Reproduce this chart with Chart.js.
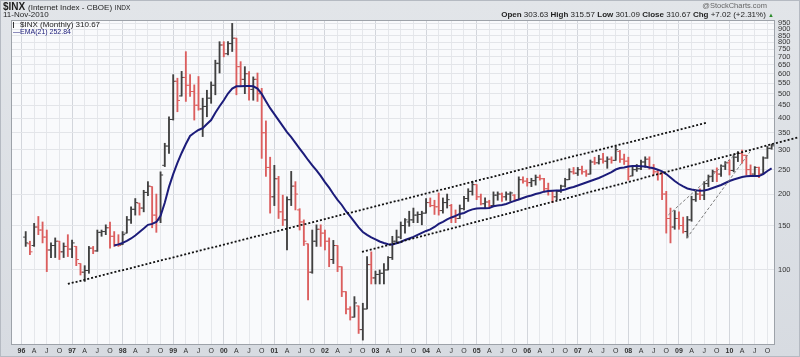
<!DOCTYPE html>
<html><head><meta charset="utf-8">
<script src="https://cdn.jsdelivr.net/npm/chart.js@4.4.1/dist/chart.umd.min.js"></script>
<style>
html,body{margin:0;padding:0;background:#fff;}
#wrap{position:relative;width:800px;height:357px;overflow:hidden;background:linear-gradient(180deg,#e2e5e9 0%,#d7dbe1 100%);font-family:"Liberation Sans",Arial,sans-serif;}
#wrap::after{content:'';position:absolute;left:0;top:0;right:0;bottom:0;border:1px solid #b5bac2;pointer-events:none;}
canvas{position:absolute;left:0;top:0;}
.t{position:absolute;white-space:nowrap;color:#1e1e1e;line-height:1;}
.ico{display:inline-block;width:4px;height:6px;border-left:1px solid #333;margin-right:2px;position:relative;vertical-align:-1px;}
</style></head><body>
<div id="wrap">
<canvas id="c" width="800" height="357"></canvas>
<div class="t" style="left:3px;top:2px;font-size:10px;"><b>$INX</b> <span style="font-size:8px">(Internet Index - CBOE)</span> <span style="font-size:6.5px">INDX</span></div>
<div class="t" style="left:3px;top:11px;font-size:8px;">11-Nov-2010</div>
<div class="t" style="right:33px;top:2px;font-size:7.5px;color:#666;">@StockCharts.com</div>
<div class="t" style="right:26px;top:11px;font-size:8px;"><b>Open</b> 303.63 <b>High</b> 315.57 <b>Low</b> 301.09 <b>Close</b> 310.67 <b>Chg</b> +7.02 (+2.31%) <span style="color:#2a8a2a;font-size:6px">&#9650;</span></div>
<div class="t" style="left:13px;top:21px;font-size:8px;"><span class="ico"></span>$INX (Monthly) 310.67</div>
<div class="t" style="left:13px;top:28px;font-size:7px;color:#1c1c7a;">&#8212;EMA(21) 252.84</div>
</div>
<script>
// months counted from Jan 1996 (= 0); first bar Feb 1996
const firstMonth = 1;
const opens = [
135,127,125,148,144,135,120,125,130,118,
124,121,124,106,98,99.5,122,119,141,142,
147,136,126,126,140,158,174,184,176,203,
214,165,158,260,310,395,560,490,580,540,
510,450,435,445,480,540,660,780,720,790,
830,640,570,600,520,570,500,350,255,195,
230,170,158,190,215,173,155,127,98,130,
145,140,130,110,125,103,82,70,65,72,
58,70,105,93,96,97,100,112,130,135,
150,155,158,165,166,168,185,180,178,172,
185,180,162,160,175,192,205,218,195,183,
186,180,198,200,195,200,198,190,228,225,
222,226,233,230,210,205,195,205,215,228,
245,242,250,245,240,268,266,275,270,275,
272,295,275,270,236,250,252,268,275,255,
245,240,200,160,148,160,150,142,158,190,
200,198,220,235,245,240,258,266,248,280,
290,285,250,240,255,240,278,303.63];
const highs = [
142,130,153,163,155,144,128,134,130,128,
138,131.5,124,106,104,124,124,144,144,151,
155,142,138,142,163,178,192,184,207,224,
214,200,245,318,405,595,576,613,734,595,
542,585,480,516,557,679,804,804,804,950,
830,670,640,612,583,604,525,390,280,260,
235,198,195,246,224,175,158,127,144,151,
151,144,134,131,125,103,82,71.5,78.4,72,
73.8,113,118,99,100,106,113,136,144,155,
160,171,176,170,171,192,193,189,202,193,
200,182,173,181,196,210,224,218,200,193,
189,204,204,202,204,204,199,234,234,231,
231,238,238,231,221,207,207,217,231,252,
255,255,258,249,273,280,285,290,281,281,
309,298,288,280,258,262,273,281,281,262,
249,245,205,176,172,170,162,163,196,208,
210,224,238,249,254,261,269,273,286,295,
299,285,261,257,256,281,309,315.57];
const lows = [
124,115,124,138,128,98.5,112,112,110,112,
113,112,104,95.5,90,97,116,118.5,136,138,
122,124,124,126,140,153,165,165,170,197,
147,141,154,257,290,393,424,489,466,488,
393,430,338,405,458,495,604,700,712,735,
495,533,500,471,471,466,277,235,168,180,
160,150,120,180,173,144,125,76,97,124,
124,120,103,106,98.5,78.4,67,63.3,65,56,
52.7,70,88,88,88,88,100,110,128,133,
140,149,154,154,151,168,178,166,165,168,
176,154,154,160,173,187,198,190,181,176,
176,180,189,187,189,187,187,190,221,215,
214,217,227,204,198,185,190,203,213,228,
240,237,240,235,240,262,263,265,253,265,
272,267,262,227,236,246,250,255,251,238,
227,190,140,128,145,145,140,134,156,187,
190,190,214,224,224,235,250,238,245,269,
265,238,235,235,232,240,277,301.09];
const closes = [
128,118,148,144,135,120,125,130,118,124,
121,128,110,98,99.5,122,119,141,142,147,
136,126,125,138,158,174,185,176,203,215,
165,158,238,310,395,560,470,580,540,510,
450,435,445,480,540,660,780,720,790,830,
640,570,600,520,570,500,350,255,195,230,
170,158,190,215,200,155,130,98,130,145,
140,130,110,125,103,82,70,65,74,58,
70,105,93,96,97,100,112,130,135,150,
158,158,165,166,168,185,180,178,172,185,
190,162,160,175,192,205,218,195,183,186,
180,198,200,195,200,202,190,228,225,222,
226,233,230,210,205,195,205,215,228,245,
242,250,245,240,268,266,275,270,275,272,
300,275,270,235,250,252,268,275,255,245,
240,200,160,148,160,150,142,158,190,200,
198,220,235,245,240,258,266,248,280,290,
285,250,240,255,240,278,303.63,310.67];
const emaStartMonth = 22;
const ema21 = [
125,126.3,128,130.3,133.3,137,141.5,146,151,152.3,
155,164,184.6,213.5,240,266,291,316,340,350,
359,365,379,393,420,446,471,501,524,535,
535,536,536,535,524,499,467,438,415,393,
372,352,336,319,303,288,273,260,248,236,
223,212,200,189.5,181,171,163,155,147.5,141.5,
137.7,134.6,132.1,129.7,128,126.5,126.3,127.6,129.1,131.5,
133.3,135.2,137.7,140.2,142.8,144.8,148.1,152.3,155.1,158.6,
161.5,163.8,166.8,168.3,171.5,173.9,175.4,175.8,175.8,176.2,
178.8,180,181,182.7,185.3,188,190.4,192.9,195.6,197.4,
200.1,202,204.4,205.7,206.2,206.6,206.6,208.5,211.3,213.3,
216.2,219.2,222.2,225.3,228.5,231.5,235.7,240.1,244.5,250.2,
253.5,254.7,257.4,258.6,258.6,258,257.1,254.7,253,249.8,
245.9,240.1,232.7,225.3,219.2,214.3,210.5,208.5,207,206.2,
206.6,208.5,211.3,214.2,217.3,221.2,225.3,228.5,231,233.6,
235.2,235.7,235.7,235.7,240.1,246.8,252.84];
// trend lines: [month, value] end points
const longTrendLine   = [[11.0, 88.0], [162.7, 384]];
const channelLine     = [[80.8, 117.9], [184.7, 337]];
const wedgeUpperLine  = [[153.5, 165.3], [170.1, 294.6]];
const wedgeLowerLine  = [[157.85, 133.6], [172.9, 294.6]];
const xTickLabels = [];
const yrs = ['96','97','98','99','00','01','02','03','04','05','06','07','08','09','10'];
yrs.forEach(y => { xTickLabels.push(y, 'A', 'J', 'O'); });
const yTickValues = [100,150,200,250,300,350,400,450,500,550,600,650,700,750,800,850,900,950];

const UP = '#404040', DOWN = '#db5e5e';
const barColors = closes.map((c, i) => (i === 0 || c >= closes[i-1]) ? UP : DOWN);
const toXY = arr => arr.map(p => ({x: p[0], y: p[1]}));

Chart.defaults.font.family = '"Liberation Sans", Arial, sans-serif';

const plotFrame = {
  id: 'plotFrame',
  beforeDraw(chart) {
    const {ctx, chartArea: a} = chart;
    ctx.save();
    ctx.fillStyle = '#f9fafc';
    ctx.fillRect(a.left, a.top, a.right - a.left, a.bottom - a.top);
    ctx.restore();
  },
  beforeDatasetsDraw(chart) {
    const {ctx, chartArea: a} = chart;
    ctx.save();
    ctx.strokeStyle = '#9da2a9';
    ctx.lineWidth = 1;
    ctx.strokeRect(a.left + 0.5, a.top + 0.5, a.right - a.left - 1, a.bottom - a.top - 1);
    ctx.restore();
  }
};

new Chart(document.getElementById('c'), {
  type: 'line',
  data: {
    datasets: [
      {type: 'line', data: toXY(longTrendLine), borderColor: '#111', borderWidth: 1.8, borderDash: [2, 2], pointRadius: 0, order: 0, clip: false},
      {type: 'line', data: toXY(channelLine), borderColor: '#111', borderWidth: 1.8, borderDash: [2, 2], pointRadius: 0, order: 0, clip: false},
      {type: 'line', data: toXY(wedgeUpperLine), borderColor: '#7d7d7d', borderWidth: 1, borderDash: [3, 2], pointRadius: 0, order: 0},
      {type: 'line', data: toXY(wedgeLowerLine), borderColor: '#7d7d7d', borderWidth: 1, borderDash: [3, 2], pointRadius: 0, order: 0},
      {type: 'line', data: ema21.map((v, i) => ({x: emaStartMonth + i, y: v})), borderColor: '#1c1c7a', borderWidth: 2, pointRadius: 0, tension: 0, order: 1},
      {type: 'line', showLine: false, data: opens.map((v, i) => ({x: firstMonth + i - 0.3, y: v})), pointStyle: 'line', pointRadius: 1.3, pointHoverRadius: 0, pointBorderWidth: 1, pointBorderColor: barColors, pointBackgroundColor: barColors, order: 2},
      {type: 'line', showLine: false, data: closes.map((v, i) => ({x: firstMonth + i + 0.3, y: v})), pointStyle: 'line', pointRadius: 1.3, pointHoverRadius: 0, pointBorderWidth: 1, pointBorderColor: barColors, pointBackgroundColor: barColors, order: 2},
      {type: 'bar', data: highs.map((h, i) => ({x: firstMonth + i, y: [lows[i], h]})), backgroundColor: barColors, borderWidth: 0, barThickness: 1.2, order: 3}
    ]
  },
  options: {
    responsive: false,
    animation: false,
    events: [],
    layout: {padding: {left: 11, top: 20, right: 0, bottom: 0}},
    plugins: {legend: {display: false}, tooltip: {enabled: false}},
    scales: {
      x: {
        type: 'linear', min: -2.49, max: 178.8, offset: false,
        afterBuildTicks: s => { s.ticks = xTickLabels.map((l, i) => ({value: i * 3})); },
        afterFit: s => { s.height = 12; },
        ticks: {
          autoSkip: false, maxRotation: 0, padding: 2, color: '#333',
          font: c => ({size: 7, weight: (c.tick && c.tick.value % 12 === 0) ? 'bold' : 'normal'}),
          callback: (v, i) => xTickLabels[i]
        },
        grid: {offset: false, drawTicks: false, color: c => (c.tick && c.tick.value % 12 === 0) ? '#d3d6dc' : '#e5e7eb'},
        border: {display: false}
      },
      y: {
        type: 'logarithmic', position: 'right', min: 50.4, max: 980,
        afterBuildTicks: s => { s.ticks = yTickValues.map(v => ({value: v})); },
        afterFit: s => { s.width = 25; },
        ticks: {autoSkip: false, padding: 3, color: '#333', font: {size: 7.5}, callback: v => String(v)},
        grid: {drawTicks: false, color: '#e3e5e9'},
        border: {display: false}
      }
    }
  },
  plugins: [plotFrame]
});
</script>
</body></html>
